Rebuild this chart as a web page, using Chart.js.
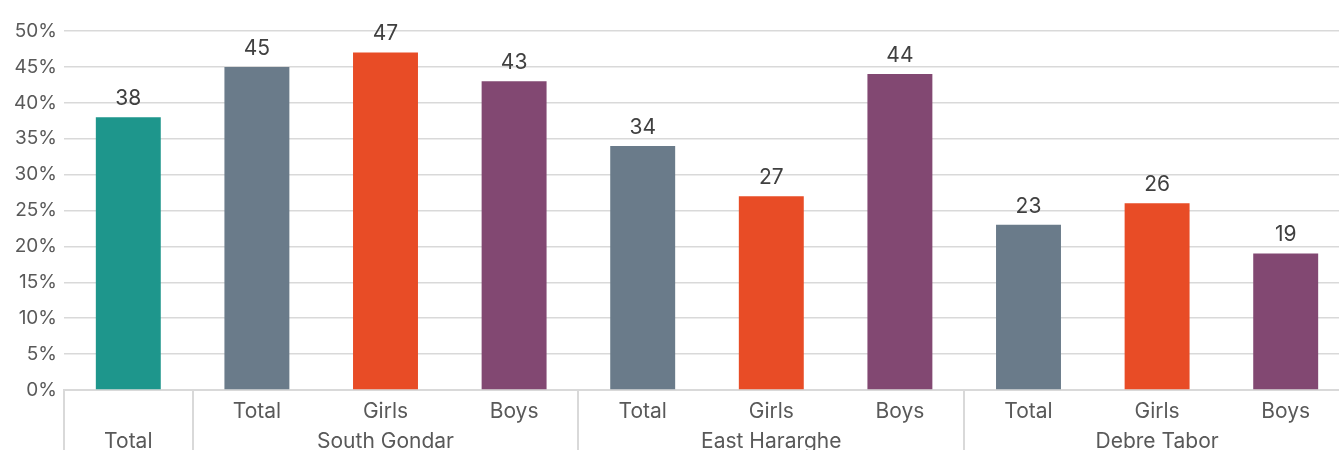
<!DOCTYPE html>
<html>
<head>
<meta charset="utf-8">
<script src="https://cdn.jsdelivr.net/npm/chart.js@4"></script>
<style>
  html, body { margin: 0; padding: 0; background: #fff; overflow: hidden; }
  #chart { display: block; }
</style>
</head>
<body>
<!-- plot runs a little past the right edge of the window -->
<canvas id="chart" width="1350" height="450"></canvas>
<script>
const subLabels = ["", "Total", "Girls", "Boys", "Total", "Girls", "Boys", "Total", "Girls", "Boys"];
const groupLabels = ["Total", "", "South Gondar", "", "", "East Hararghe", "", "", "Debre Tabor", ""];
const values = [38, 45, 47, 43, 34, 27, 44, 23, 26, 19];
// first bar of each group gets a separator on its left edge
const groupStarts = [0, 1, 4, 7];

const teal = "#1e968c";
const slate = "#6a7b8a";
const orange = "#e84c26";
const purple = "#824872";
const barColors = [teal, slate, orange, purple, slate, orange, purple, slate, orange, purple];

const fontFamily = "Inter, 'Liberation Sans', sans-serif";

// value labels above each bar
const valueLabels = {
  id: "valueLabels",
  afterDatasetsDraw(chart) {
    const ctx = chart.ctx;
    const meta = chart.getDatasetMeta(0);
    ctx.save();
    ctx.font = "21px " + fontFamily;
    ctx.fillStyle = "#404040";
    ctx.textAlign = "center";
    ctx.textBaseline = "bottom";
    meta.data.forEach((bar, i) => {
      ctx.fillText(values[i], bar.x, bar.y - 8);
    });
    ctx.restore();
  }
};

// vertical separators between the region groups below the axis
const groupLines = {
  id: "groupLines",
  afterDraw(chart) {
    const ctx = chart.ctx;
    const x = chart.scales.x;
    const half = (x.getPixelForValue(1) - x.getPixelForValue(0)) / 2;
    ctx.save();
    ctx.strokeStyle = "#d9d9d9";
    ctx.lineWidth = 2;
    groupStarts.forEach(i => {
      const px = Math.round(x.getPixelForValue(i) - half);
      ctx.beginPath();
      ctx.moveTo(px, chart.chartArea.bottom);
      ctx.lineTo(px, chart.height);
      ctx.stroke();
    });
    ctx.restore();
  }
};

new Chart(document.getElementById("chart").getContext("2d"), {
  type: "bar",
  data: {
    labels: subLabels.map((s, i) => [s, groupLabels[i]]),
    datasets: [{
      data: values,
      backgroundColor: barColors,
      categoryPercentage: 1,
      barPercentage: 0.505
    }]
  },
  options: {
    responsive: false,
    animation: false,
    layout: { padding: { top: 31, right: 0, left: 0, bottom: 0 } },
    plugins: {
      legend: { display: false },
      tooltip: { enabled: false }
    },
    scales: {
      x: {
        afterFit(scale) { scale.height = 60; },
        grid: { display: false, drawTicks: false },
        border: { color: "#d9d9d9", width: 2 },
        ticks: {
          autoSkip: false,
          maxRotation: 0,
          padding: 7,
          color: "#595959",
          font: { family: fontFamily, size: 21, lineHeight: 1.43 }
        }
      },
      y: {
        min: 0,
        max: 50,
        afterFit(scale) { scale.width = 64; },
        border: { display: false },
        grid: { color: "#d9d9d9", lineWidth: 1.5, drawTicks: false },
        ticks: {
          stepSize: 5,
          padding: 7,
          color: "#595959",
          font: { family: fontFamily, size: 19 },
          callback: v => v + "%"
        }
      }
    }
  },
  plugins: [valueLabels, groupLines]
});
</script>
</body>
</html>
